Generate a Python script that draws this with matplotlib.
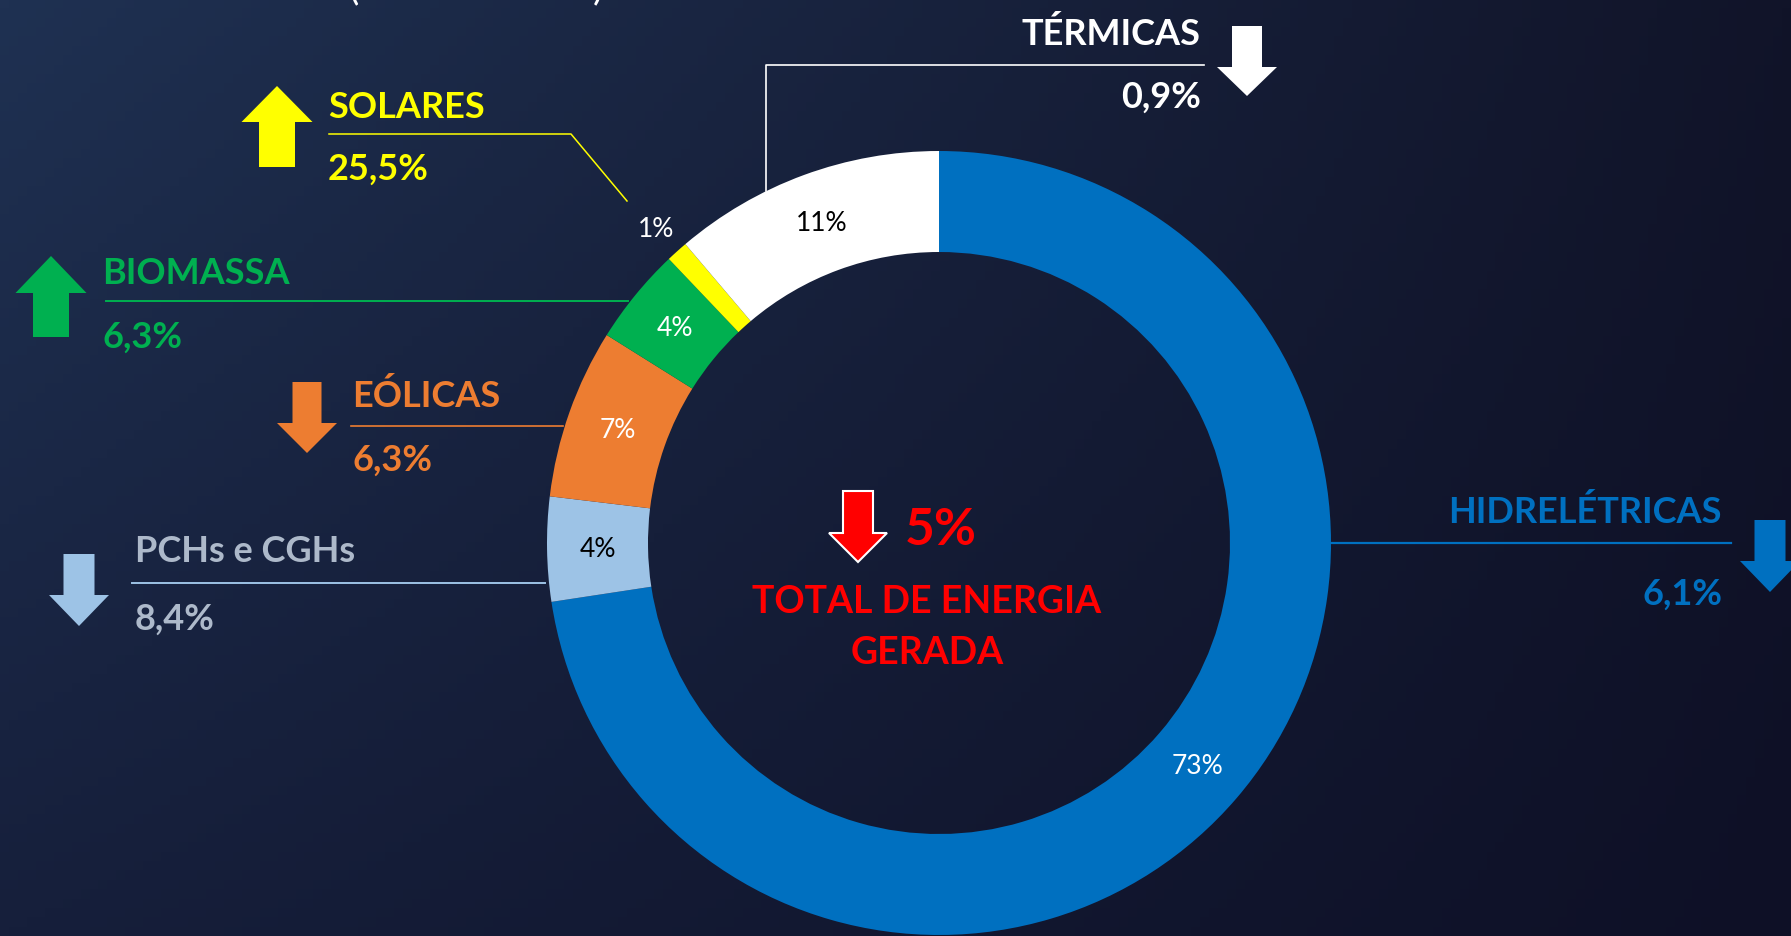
"""
Geração de energia por fonte - gráfico de rosca com variações
"""

import numpy as np
import matplotlib.pyplot as plt
from matplotlib.patches import FancyArrow

# ============================================================
# Dados
# ============================================================
categories = ['HIDRELÉTRICAS', 'PCHs e CGHs', 'EÓLICAS', 'BIOMASSA', 'SOLARES', 'TÉRMICAS']
shares = [72.6, 4.3, 7.0, 4.0, 0.9, 11.2]
variations = ['6,1%', '8,4%', '6,3%', '6,3%', '25,5%', '0,9%']
directions = ['down', 'down', 'down', 'up', 'up', 'down']
total_change = '5%'
total_label = 'TOTAL DE ENERGIA\nGERADA'

slice_colors = ['#0070C0', '#9DC3E6', '#ED7D31', '#00B050', '#FFFF00', '#FFFFFF']
pct_colors = ['white', 'black', 'white', 'white', 'white', 'black']
label_colors = ['#0070C0', '#ADB9CA', '#ED7D31', '#00B050', '#FFFF00', '#FFFFFF']

W, H = 1791, 937
FONT = 'Lato'

fig = plt.figure(figsize=(W / 100, H / 100), dpi=100)

# fundo em pixels (y para baixo)
bg = fig.add_axes([0, 0, 1, 1])
bg.set_xlim(0, W)
bg.set_ylim(H, 0)
bg.axis('off')

# gradiente do fundo
tl = np.array([31, 49, 82]) / 255
tr = np.array([17, 20, 41]) / 255
bl = np.array([22, 31, 59]) / 255
br = np.array([14, 16, 38]) / 255
u = np.linspace(0, 1, 200)[None, :, None]
v = np.linspace(0, 1, 100)[:, None, None]
grad = (tl * (1 - u) * (1 - v) + tr * u * (1 - v) + bl * (1 - u) * v + br * u * v)
bg.imshow(grad, extent=[0, W, H, 0], aspect='auto', zorder=0)

# título cortado no topo (como na referência)
for px in [353, 598]:
    bg.text(px, -1, '(' if px < 400 else ')', color='white', fontsize=28,
            family=FONT, ha='center', va='baseline', zorder=3)

# ============================================================
# Rosca
# ============================================================
cx, cy, R = 939, 544, 392
pie_ax = fig.add_axes([(cx - R) / W, (H - cy - R) / H, 2 * R / W, 2 * R / H])
pie_ax.patch.set_alpha(0)
wedges, texts, autotexts = pie_ax.pie(
    shares, colors=slice_colors, startangle=90, counterclock=False,
    radius=1, autopct='%1.0f%%', pctdistance=0.87,
    wedgeprops=dict(width=101 / R, edgecolor='none'),
    textprops=dict(fontsize=19, family=FONT))
for t, c in zip(autotexts, pct_colors):
    t.set_color(c)
# rótulo de 1% fora do anel
x0, y0 = autotexts[4].get_position()
autotexts[4].set_position((x0 * 1.24, y0 * 1.24))
pie_ax.set_xlim(-1, 1)
pie_ax.set_ylim(-1, 1)
pie_ax.axis('off')

# ============================================================
# Rótulos, linhas e setas
# ============================================================
def label(i, x, y_name, y_val, ha='left'):
    bg.text(x, y_name, categories[i], color=label_colors[i], fontsize=26,
            fontweight='bold', family=FONT, ha=ha, va='baseline', zorder=3)
    bg.text(x, y_val, variations[i], color=label_colors[i], fontsize=26,
            fontweight='bold', family=FONT, ha=ha, va='baseline', zorder=3)


def arrow(i, x, top, bottom, shaft, head_w, head_l, ec='none', lw=0):
    if directions[i] == 'up':
        a = FancyArrow(x, bottom, 0, top - bottom, width=shaft, head_width=head_w,
                       head_length=head_l, length_includes_head=True,
                       fc=slice_colors[i], ec=ec, lw=lw, zorder=3)
    else:
        a = FancyArrow(x, top, 0, bottom - top, width=shaft, head_width=head_w,
                       head_length=head_l, length_includes_head=True,
                       fc=slice_colors[i], ec=ec, lw=lw, zorder=3)
    bg.add_patch(a)


# HIDRELÉTRICAS
label(0, 1722, 523, 605, ha='right')
bg.plot([1331, 1731], [544, 544], color=slice_colors[0], lw=1.6, zorder=2)
arrow(0, 1770, 521, 593, 31, 60, 31)

# PCHs e CGHs
label(1, 135, 562, 630)
bg.plot([132, 545], [584, 584], color=slice_colors[1], lw=1.4, zorder=2)
arrow(1, 79, 555, 627, 31, 60, 31)

# EÓLICAS
label(2, 352, 407, 471)
bg.plot([351, 563], [427, 427], color=slice_colors[2], lw=1.2, zorder=2)
arrow(2, 307, 383, 454, 29, 60, 30)

# BIOMASSA
label(3, 102, 284, 348)
bg.plot([106, 628], [302, 302], color=slice_colors[3], lw=1.4, zorder=2)
arrow(3, 51, 257, 338, 36, 71, 37)

# SOLARES
label(4, 328, 118, 180)
bg.plot([329, 571, 627], [135, 135, 202], color=slice_colors[4], lw=1.1, zorder=2)
arrow(4, 277, 87, 168, 36, 71, 36)

# TÉRMICAS
label(5, 1201, 45, 108, ha='right')
bg.plot([766, 766, 1204], [192, 66, 66], color=slice_colors[5], lw=1.2, zorder=2)
arrow(5, 1247, 27, 97, 30, 60, 29)

# ============================================================
# Centro
# ============================================================
bg.add_patch(FancyArrow(858, 492, 0, 71, width=30, head_width=58, head_length=29,
                        length_includes_head=True, fc='#FF0000', ec='white',
                        lw=1.5, zorder=3))
bg.text(905, 545, total_change, color='#FF0000', fontsize=37, fontweight='bold',
        family=FONT, ha='left', va='baseline', zorder=3)
bg.text(927, 613, total_label.split('\n')[0], color='#FF0000', fontsize=27,
        fontweight='bold', family=FONT, ha='center', va='baseline', zorder=3)
bg.text(927, 664, total_label.split('\n')[1], color='#FF0000', fontsize=27,
        fontweight='bold', family=FONT, ha='center', va='baseline', zorder=3)

fig.savefig('out.png', dpi=100)
plt.close(fig)
